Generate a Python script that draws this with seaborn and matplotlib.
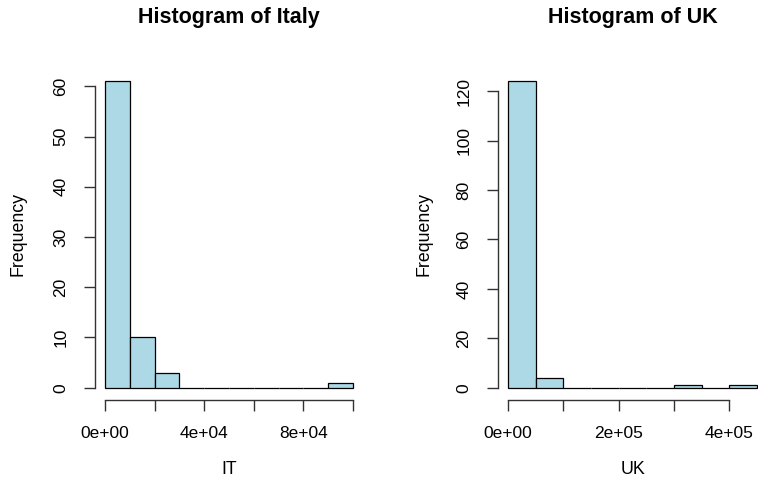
import numpy as np
import pandas as pd
import matplotlib
matplotlib.use("Agg")
import matplotlib.pyplot as plt
import seaborn as sns

sns.set_theme(style="white")
plt.rcParams["font.family"] = ["Liberation Sans", "DejaVu Sans"]
plt.rcParams["text.color"] = "black"
plt.rcParams["axes.labelcolor"] = "black"

# Histogram bin edges and counts per country
it_edges = [0, 10000, 20000, 30000, 40000, 50000, 60000, 70000, 80000, 90000, 100000]
it_counts = [61, 10, 3, 0, 0, 0, 0, 0, 0, 1]
uk_edges = [0, 50000, 100000, 150000, 200000, 250000, 300000, 350000, 400000, 450000]
uk_counts = [124, 4, 0, 0, 0, 0, 1, 0, 1]

it_xticks = [0, 20000, 40000, 60000, 80000, 100000]
it_xlabels = ["0e+00", "", "4e+04", "", "8e+04", ""]
it_yticks = [0, 10, 20, 30, 40, 50, 60]
uk_xticks = [0, 100000, 200000, 300000, 400000]
uk_xlabels = ["0e+00", "", "2e+05", "", "4e+05"]
uk_yticks = [0, 20, 40, 60, 80, 100, 120]

W, H = 758, 482
PLOT_TOP, PLOT_BOTTOM = 69, 400
fig = plt.figure(figsize=(W / 100, H / 100), dpi=100)
fig.patch.set_facecolor("white")


def px_axes(x0, x1):
    return fig.add_axes([x0 / W, 1 - PLOT_BOTTOM / H, (x1 - x0) / W,
                         (PLOT_BOTTOM - PLOT_TOP) / H])


def r_hist(ax, edges, counts, xticks, xlabels, yticks, title, xlabel,
           x0, x1, ylab_x):
    mids = [(a + b) / 2 for a, b in zip(edges[:-1], edges[1:])]
    df = pd.DataFrame({"value": mids, "count": counts})
    sns.histplot(data=df, x="value", weights="count", bins=edges, ax=ax,
                 color="#ADD8E6", edgecolor="black", linewidth=0.9, alpha=1.0)
    lo, hi = edges[0], edges[-1]
    pad = 0.04 * (hi - lo)
    ax.set_xlim(lo - pad, hi + pad)
    ymax = max(counts)
    ax.set_ylim(-0.04 * ymax, ymax * 1.04)
    ax.set_facecolor("white")
    for s in ("top", "right"):
        ax.spines[s].set_visible(False)
    for s in ("left", "bottom"):
        ax.spines[s].set_color("#333333")
        ax.spines[s].set_linewidth(1.0)
    ax.spines["bottom"].set_bounds(xticks[0], xticks[-1])
    ax.spines["left"].set_bounds(yticks[0], yticks[-1])
    ax.set_xticks(xticks)
    ax.set_xticklabels(xlabels)
    ax.set_yticks(yticks)
    ax.set_yticklabels([str(t) for t in yticks], rotation=90, va="center")
    ax.tick_params(axis="both", which="both", direction="out", length=8,
                   width=1.0, color="#333333", labelsize=12.5, labelcolor="black",
                   left=True, bottom=True)
    ax.tick_params(axis="x", pad=11)
    ax.tick_params(axis="y", pad=11)
    ax.grid(False)

    w = x1 - x0
    h = PLOT_BOTTOM - PLOT_TOP
    ax.set_title(title, fontsize=15.5, fontweight="bold", color="black",
                 y=(PLOT_BOTTOM - 31.5) / h, va="baseline")
    ax.set_xlabel(xlabel, fontsize=12.8, color="black")
    ax.set_ylabel("Frequency", fontsize=12.8, color="black")
    ax.xaxis.set_label_coords(0.5, (PLOT_BOTTOM - 461) / h)
    ax.xaxis.label.set_verticalalignment("top")
    ax.yaxis.set_label_coords((ylab_x - x0) / w, 0.5)
    ax.yaxis.label.set_verticalalignment("center")


ax1 = px_axes(95, 363)
r_hist(ax1, it_edges, it_counts, it_xticks, it_xlabels, it_yticks,
       "Histogram of Italy", "IT", 95, 363, 18)
ax2 = px_axes(498, 767)
r_hist(ax2, uk_edges, uk_counts, uk_xticks, uk_xlabels, uk_yticks,
       "Histogram of UK", "UK", 498, 767, 424)

fig.savefig("out.png", dpi=100, facecolor="white")
